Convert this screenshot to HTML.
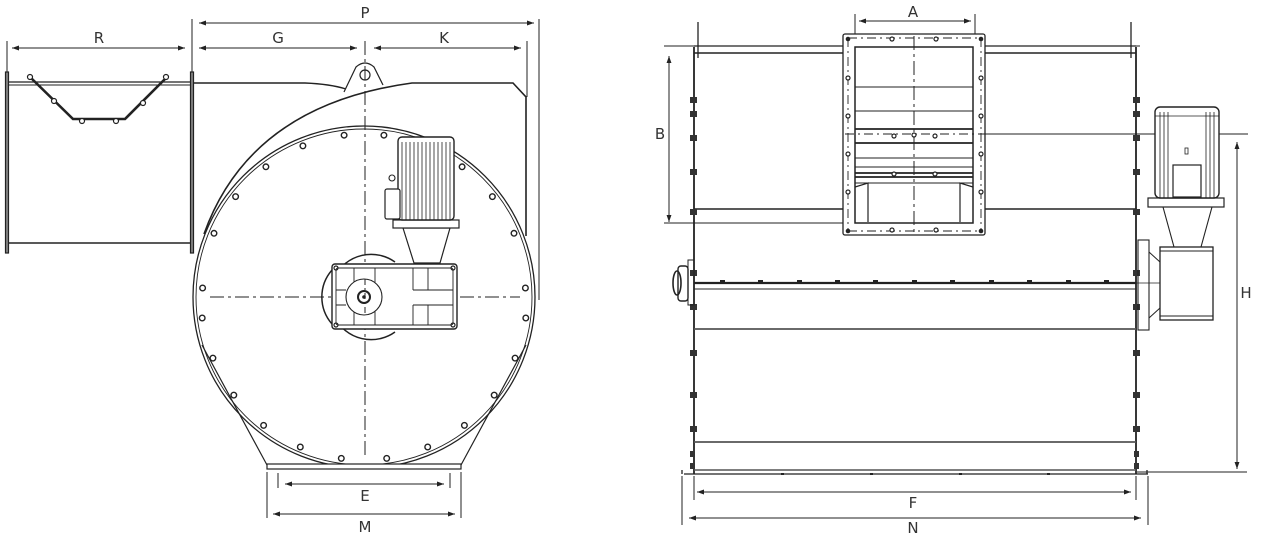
<!DOCTYPE html>
<html><head><meta charset="utf-8"><style>
html,body{margin:0;padding:0;background:#fff;}
svg{display:block;}
text{font-family:"DejaVu Sans","Liberation Sans",sans-serif;font-size:15px;fill:#333;text-anchor:middle;}
</style></head><body>
<svg width="1267" height="537" viewBox="0 0 1267 537" xmlns="http://www.w3.org/2000/svg">
<defs>
<marker id="ar" viewBox="0 0 10 10" refX="10" refY="5" markerWidth="9" markerHeight="7" orient="auto-start-reverse" markerUnits="userSpaceOnUse"><path d="M0,1.5 L10,5 L0,8.5 z" fill="#222"/></marker>
</defs>
<g stroke="#222" fill="none" stroke-width="1">
<!-- ===== LEFT VIEW ===== -->
<!-- dimension lines -->
<line x1="199" y1="23" x2="534" y2="23" marker-start="url(#ar)" marker-end="url(#ar)"/>
<line x1="12" y1="48" x2="185" y2="48" marker-start="url(#ar)" marker-end="url(#ar)"/>
<line x1="199" y1="48" x2="357" y2="48" marker-start="url(#ar)" marker-end="url(#ar)"/>
<line x1="374" y1="48" x2="521" y2="48" marker-start="url(#ar)" marker-end="url(#ar)"/>
<line x1="192" y1="19" x2="192" y2="253"/>
<line x1="539" y1="19" x2="539" y2="300"/>
<line x1="527" y1="41" x2="527" y2="97"/>
<line x1="7" y1="41" x2="7" y2="253"/>
<!-- duct -->
<rect x="5.5" y="72" width="3" height="181" stroke-width="1.2"/>
<rect x="190.5" y="72" width="3" height="181" stroke-width="1.2"/>
<line x1="8" y1="82" x2="190" y2="82" stroke-width="1.3"/>
<line x1="8" y1="85" x2="190" y2="85" stroke-width="1"/>
<line x1="8" y1="243" x2="190" y2="243" stroke-width="1.5"/>
<path d="M29,76 L73,119 L125,119 L168,76" stroke-width="2.6"/>
<g fill="#fff" stroke-width="1.2"><circle cx="30" cy="77" r="2.5"/><circle cx="54" cy="101" r="2.5"/><circle cx="82" cy="121" r="2.5"/><circle cx="116" cy="121" r="2.5"/><circle cx="143" cy="103" r="2.5"/><circle cx="166" cy="77" r="2.5"/></g>
<!-- housing top -->
<path d="M193,83 L305,83 Q330,84 346,89" stroke-width="1.4"/>
<path d="M344,92 L356,67 Q365,59 374,67 L383,85" stroke-width="1.2" fill="#fff"/>
<circle cx="365" cy="75" r="5" stroke-width="1.2"/>
<!-- volute -->
<path d="M204,234 Q250,105 412,83 L513,83 L526,97 L526,236" stroke-width="1.6"/>
<!-- main circle -->
<circle cx="364" cy="297" r="171" stroke-width="1.3"/>
<circle cx="364" cy="297" r="168" stroke-width="0.9"/>
<!-- base tangents & plate -->
<path d="M202,345 L267,465" stroke-width="1.2"/>
<path d="M526,345 L461,465" stroke-width="1.2"/>
<rect x="267" y="464" width="194" height="5" stroke-width="1.2" fill="#fff"/>
<!-- bolt holes -->
<g stroke-width="1.4" fill="#fff">
<circle cx="341.3" cy="458.4" r="2.8"/><circle cx="386.7" cy="458.4" r="2.8"/>
<circle cx="300.3" cy="447" r="2.8"/><circle cx="427.7" cy="447" r="2.8"/>
<circle cx="263.6" cy="425.4" r="2.8"/><circle cx="464.4" cy="425.4" r="2.8"/>
<circle cx="233.8" cy="395.1" r="2.8"/><circle cx="494.2" cy="395.1" r="2.8"/>
<circle cx="212.9" cy="358.1" r="2.8"/><circle cx="515.1" cy="358.1" r="2.8"/>
<circle cx="202.2" cy="318" r="2.8"/><circle cx="525.8" cy="318" r="2.8"/>
<circle cx="202.6" cy="288" r="2.8"/><circle cx="525.4" cy="288" r="2.8"/>
<circle cx="214" cy="233.3" r="2.8"/><circle cx="514" cy="233.3" r="2.8"/>
<circle cx="235.6" cy="196.6" r="2.8"/><circle cx="492.4" cy="196.6" r="2.8"/>
<circle cx="265.9" cy="166.8" r="2.8"/><circle cx="462.1" cy="166.8" r="2.8"/>
<circle cx="302.9" cy="145.9" r="2.8"/><circle cx="425.1" cy="145.9" r="2.8"/>
<circle cx="344.1" cy="135.2" r="2.8"/><circle cx="383.9" cy="135.2" r="2.8"/>
</g>
<!-- centerlines -->
<line x1="365" y1="41" x2="365" y2="455" stroke-dasharray="14,4,3,4" stroke-width="1"/>
<line x1="210" y1="297" x2="520" y2="297" stroke-dasharray="14,4,3,4" stroke-width="1"/>
<!-- gearbox -->
<path d="M335,276 A41,41 0 0 1 395,262 M335,318 A41,41 0 0 0 395,332 M332,270 A41,41 0 0 0 332,324" stroke-width="1.5"/>
<rect x="332" y="264" width="125" height="65" rx="3" fill="#fff" stroke-width="1.4"/>
<rect x="336" y="268" width="117" height="57" rx="2" stroke-width="0.9"/>
<path d="M354,268 V325 M375,268 V325 M413,268 V290 M413,305 V325 M428,268 V290 M428,305 V325 M413,290 H453 M413,305 H453 M336,290 H346 M336,305 H346" stroke-width="0.9"/>
<circle cx="364" cy="297" r="18" fill="#fff" stroke-width="1.1"/>
<circle cx="364" cy="297" r="6" stroke-width="2"/>
<circle cx="364" cy="297" r="1.3" fill="#222"/>
<g stroke-width="1.2"><circle cx="336" cy="268" r="2"/><circle cx="453" cy="268" r="2"/><circle cx="336" cy="325" r="2"/><circle cx="453" cy="325" r="2"/></g>
<line x1="365" y1="279" x2="365" y2="315" stroke-dasharray="6,3,2,3"/>
<!-- motor -->
<path d="M403,228 L414,263 L440,263 L450,228 Z" fill="#fff" stroke-width="1.2"/>
<rect x="393" y="220" width="66" height="8" fill="#fff" stroke-width="1.2"/>
<rect x="398" y="137" width="56" height="83" rx="4" fill="#fff" stroke-width="1.4"/>
<path d="M402,142V220 M406,142V220 M410,142V220 M414,142V220 M418,142V220 M422,142V220 M426,142V220 M430,142V220 M434,142V220 M438,142V220 M442,142V220 M446,142V220 M450,142V220" stroke-width="0.8"/>
<rect x="385" y="189" width="15" height="30" rx="2" fill="#fff" stroke-width="1.2"/>
<circle cx="392" cy="178" r="3" stroke-width="1.1"/>
<!-- E M dims -->
<line x1="278" y1="473" x2="278" y2="488"/>
<line x1="450" y1="473" x2="450" y2="488"/>
<line x1="267" y1="472" x2="267" y2="518"/>
<line x1="461" y1="472" x2="461" y2="518"/>
<line x1="285" y1="484" x2="444" y2="484" marker-start="url(#ar)" marker-end="url(#ar)"/>
<line x1="273" y1="514" x2="455" y2="514" marker-start="url(#ar)" marker-end="url(#ar)"/>

<!-- ===== RIGHT VIEW ===== -->
<line x1="859" y1="21" x2="971" y2="21" marker-start="url(#ar)" marker-end="url(#ar)"/>
<line x1="855" y1="14" x2="855" y2="40"/>
<line x1="975" y1="14" x2="975" y2="40"/>
<line x1="664" y1="46" x2="845" y2="46"/>
<line x1="985" y1="46" x2="1140" y2="46"/>
<line x1="669" y1="56" x2="669" y2="222" marker-start="url(#ar)" marker-end="url(#ar)"/>
<line x1="664" y1="223" x2="855" y2="223"/>
<line x1="845" y1="134" x2="1248" y2="134"/>
<line x1="1237" y1="142" x2="1237" y2="469" marker-start="url(#ar)" marker-end="url(#ar)"/>
<line x1="1137" y1="472" x2="1247" y2="472"/>
<!-- body -->
<line x1="694" y1="47" x2="694" y2="474" stroke-width="1.8"/>
<line x1="1136" y1="47" x2="1136" y2="474" stroke-width="1.8"/>
<line x1="698" y1="22" x2="698" y2="58" stroke-width="1.3"/>
<line x1="1131" y1="22" x2="1131" y2="58" stroke-width="1.3"/>
<line x1="694" y1="46" x2="845" y2="46" stroke-width="1.3"/>
<line x1="694" y1="53" x2="845" y2="53" stroke-width="1.6"/>
<line x1="985" y1="46" x2="1136" y2="46" stroke-width="1.3"/>
<line x1="985" y1="53" x2="1136" y2="53" stroke-width="1.6"/>
<line x1="694" y1="209" x2="845" y2="209" stroke-width="1.6"/>
<line x1="985" y1="209" x2="1136" y2="209" stroke-width="1.6"/>
<line x1="694" y1="283" x2="1136" y2="283" stroke-width="2.2"/>
<line x1="694" y1="289" x2="1136" y2="289" stroke-width="1"/>
<line x1="694" y1="329" x2="1136" y2="329" stroke-width="1.8" stroke="#555"/>
<line x1="694" y1="442" x2="1136" y2="442" stroke-width="1.8" stroke="#555"/>
<line x1="694" y1="470" x2="1136" y2="470" stroke-width="1.6" stroke="#555"/>
<line x1="684" y1="474" x2="1148" y2="474" stroke-width="1.3"/>
<path d="M682,470 V474 M1147,470 V474" stroke-width="1.3"/>
<line x1="1136" y1="283" x2="1160" y2="283" stroke-width="0.8"/>
<g fill="#222" stroke="none">
<rect x="720" y="280" width="5" height="3"/><rect x="758" y="280" width="5" height="3"/><rect x="797" y="280" width="5" height="3"/><rect x="835" y="280" width="5" height="3"/><rect x="873" y="280" width="5" height="3"/><rect x="912" y="280" width="5" height="3"/><rect x="950" y="280" width="5" height="3"/><rect x="989" y="280" width="5" height="3"/><rect x="1027" y="280" width="5" height="3"/><rect x="1066" y="280" width="5" height="3"/><rect x="1104" y="280" width="5" height="3"/>
<rect x="781" y="473" width="3" height="2"/><rect x="870" y="473" width="3" height="2"/><rect x="959" y="473" width="3" height="2"/><rect x="1047" y="473" width="3" height="2"/>
</g>
<!-- side bolts -->
<g fill="#333" stroke="none">
<rect x="690" y="97" width="7" height="6"/><rect x="690" y="111" width="7" height="6"/><rect x="690" y="135" width="7" height="6"/><rect x="690" y="169" width="7" height="6"/><rect x="690" y="209" width="7" height="6"/>
<rect x="690" y="270" width="7" height="6"/><rect x="690" y="304" width="7" height="6"/><rect x="690" y="350" width="7" height="6"/><rect x="690" y="392" width="7" height="6"/><rect x="690" y="426" width="7" height="6"/><rect x="690" y="451" width="5" height="6"/><rect x="690" y="463" width="5" height="6"/>
<rect x="1133" y="97" width="7" height="6"/><rect x="1133" y="111" width="7" height="6"/><rect x="1133" y="135" width="7" height="6"/><rect x="1133" y="169" width="7" height="6"/><rect x="1133" y="209" width="7" height="6"/>
<rect x="1133" y="270" width="7" height="6"/><rect x="1133" y="304" width="7" height="6"/><rect x="1133" y="350" width="7" height="6"/><rect x="1133" y="392" width="7" height="6"/><rect x="1133" y="426" width="7" height="6"/><rect x="1134" y="451" width="5" height="6"/><rect x="1134" y="463" width="5" height="6"/>
</g>
<!-- bearing left -->
<rect x="688" y="260" width="6" height="45" stroke-width="1"/>
<rect x="678" y="266" width="10" height="35" rx="3" stroke-width="1.4"/>
<ellipse cx="677" cy="283" rx="4" ry="12" stroke-width="1.6"/>
<!-- inlet frame -->
<rect x="843" y="34" width="142" height="201" rx="2" fill="#fff" stroke-width="1.3"/>
<rect x="855" y="47" width="118" height="176" stroke-width="1.5"/>
<path d="M848,38 H981 M848,231 H981 M848,38 V231 M981,38 V231" stroke-dasharray="9,4,2,4" stroke-width="0.9"/>
<path d="M855,87 H973 M855,111 H973 M855,158 H973 M855,167 H973 M855,183 H973" stroke-width="1"/>
<path d="M855,129 H973 M855,143 H973 M855,173 H973 M855,177 H973" stroke-width="1.8"/>
<path d="M845,134 H985" stroke-dasharray="9,4,2,4" stroke-width="1"/>
<path d="M855,187 L868,183 L868,222 M973,187 L960,183 L960,222" stroke-width="1.2"/>
<line x1="914" y1="36" x2="914" y2="235" stroke-dasharray="14,4,3,4" stroke-width="1"/>
<g fill="#222" stroke="none">
<circle cx="848" cy="39" r="2.3"/><circle cx="981" cy="39" r="2.3"/><circle cx="848" cy="231" r="2.3"/><circle cx="981" cy="231" r="2.3"/>
</g>
<g fill="#fff" stroke-width="1.2">
<circle cx="892" cy="39" r="2"/><circle cx="936" cy="39" r="2"/><circle cx="892" cy="230" r="2"/><circle cx="936" cy="230" r="2"/>
<circle cx="848" cy="78" r="2"/><circle cx="848" cy="116" r="2"/><circle cx="848" cy="154" r="2"/><circle cx="848" cy="192" r="2"/>
<circle cx="981" cy="78" r="2"/><circle cx="981" cy="116" r="2"/><circle cx="981" cy="154" r="2"/><circle cx="981" cy="192" r="2"/>
<circle cx="894" cy="136" r="2"/><circle cx="914" cy="135" r="2"/><circle cx="935" cy="136" r="2"/><circle cx="894" cy="174" r="2"/><circle cx="935" cy="174" r="2"/>
</g>
<!-- right motor -->
<rect x="1138" y="240" width="11" height="90" stroke-width="1.1"/>
<path d="M1149,252 L1160,262 M1149,318 L1160,308" stroke-width="1"/>
<rect x="1160" y="247" width="53" height="73" fill="#fff" stroke-width="1.3"/>
<line x1="1160" y1="251" x2="1213" y2="251"/>
<line x1="1160" y1="316" x2="1213" y2="316"/>
<path d="M1163,207 L1174,247 M1212,207 L1201,247" stroke-width="1.1"/>
<rect x="1148" y="198" width="76" height="9" fill="#fff" stroke-width="1.2"/>
<rect x="1155" y="107" width="64" height="91" rx="5" fill="#fff" stroke-width="1.4"/>
<path d="M1160,112V198 M1164,112V198 M1168,112V198 M1206,112V198 M1210,112V198 M1214,112V198 M1155,116 H1219" stroke-width="0.8"/>
<rect x="1173" y="165" width="28" height="32" fill="#fff" stroke-width="1.2"/>
<rect x="1185" y="148" width="3" height="6" stroke-width="0.8"/>
<!-- F N dims -->
<line x1="694" y1="476" x2="694" y2="500"/>
<line x1="1136" y1="476" x2="1136" y2="500"/>
<line x1="682" y1="476" x2="682" y2="525"/>
<line x1="1148" y1="476" x2="1148" y2="525"/>
<line x1="697" y1="492" x2="1131" y2="492" marker-start="url(#ar)" marker-end="url(#ar)"/>
<line x1="689" y1="518" x2="1141" y2="518" marker-start="url(#ar)" marker-end="url(#ar)"/>
</g>
<text x="365" y="18">P</text>
<text x="99" y="43">R</text>
<text x="278" y="43">G</text>
<text x="444" y="43">K</text>
<text x="365" y="501">E</text>
<text x="365" y="532">M</text>
<text x="913" y="17">A</text>
<text x="660" y="139">B</text>
<text x="1246" y="298">H</text>
<text x="913" y="508">F</text>
<text x="913" y="533">N</text>
</svg>
</body></html>
